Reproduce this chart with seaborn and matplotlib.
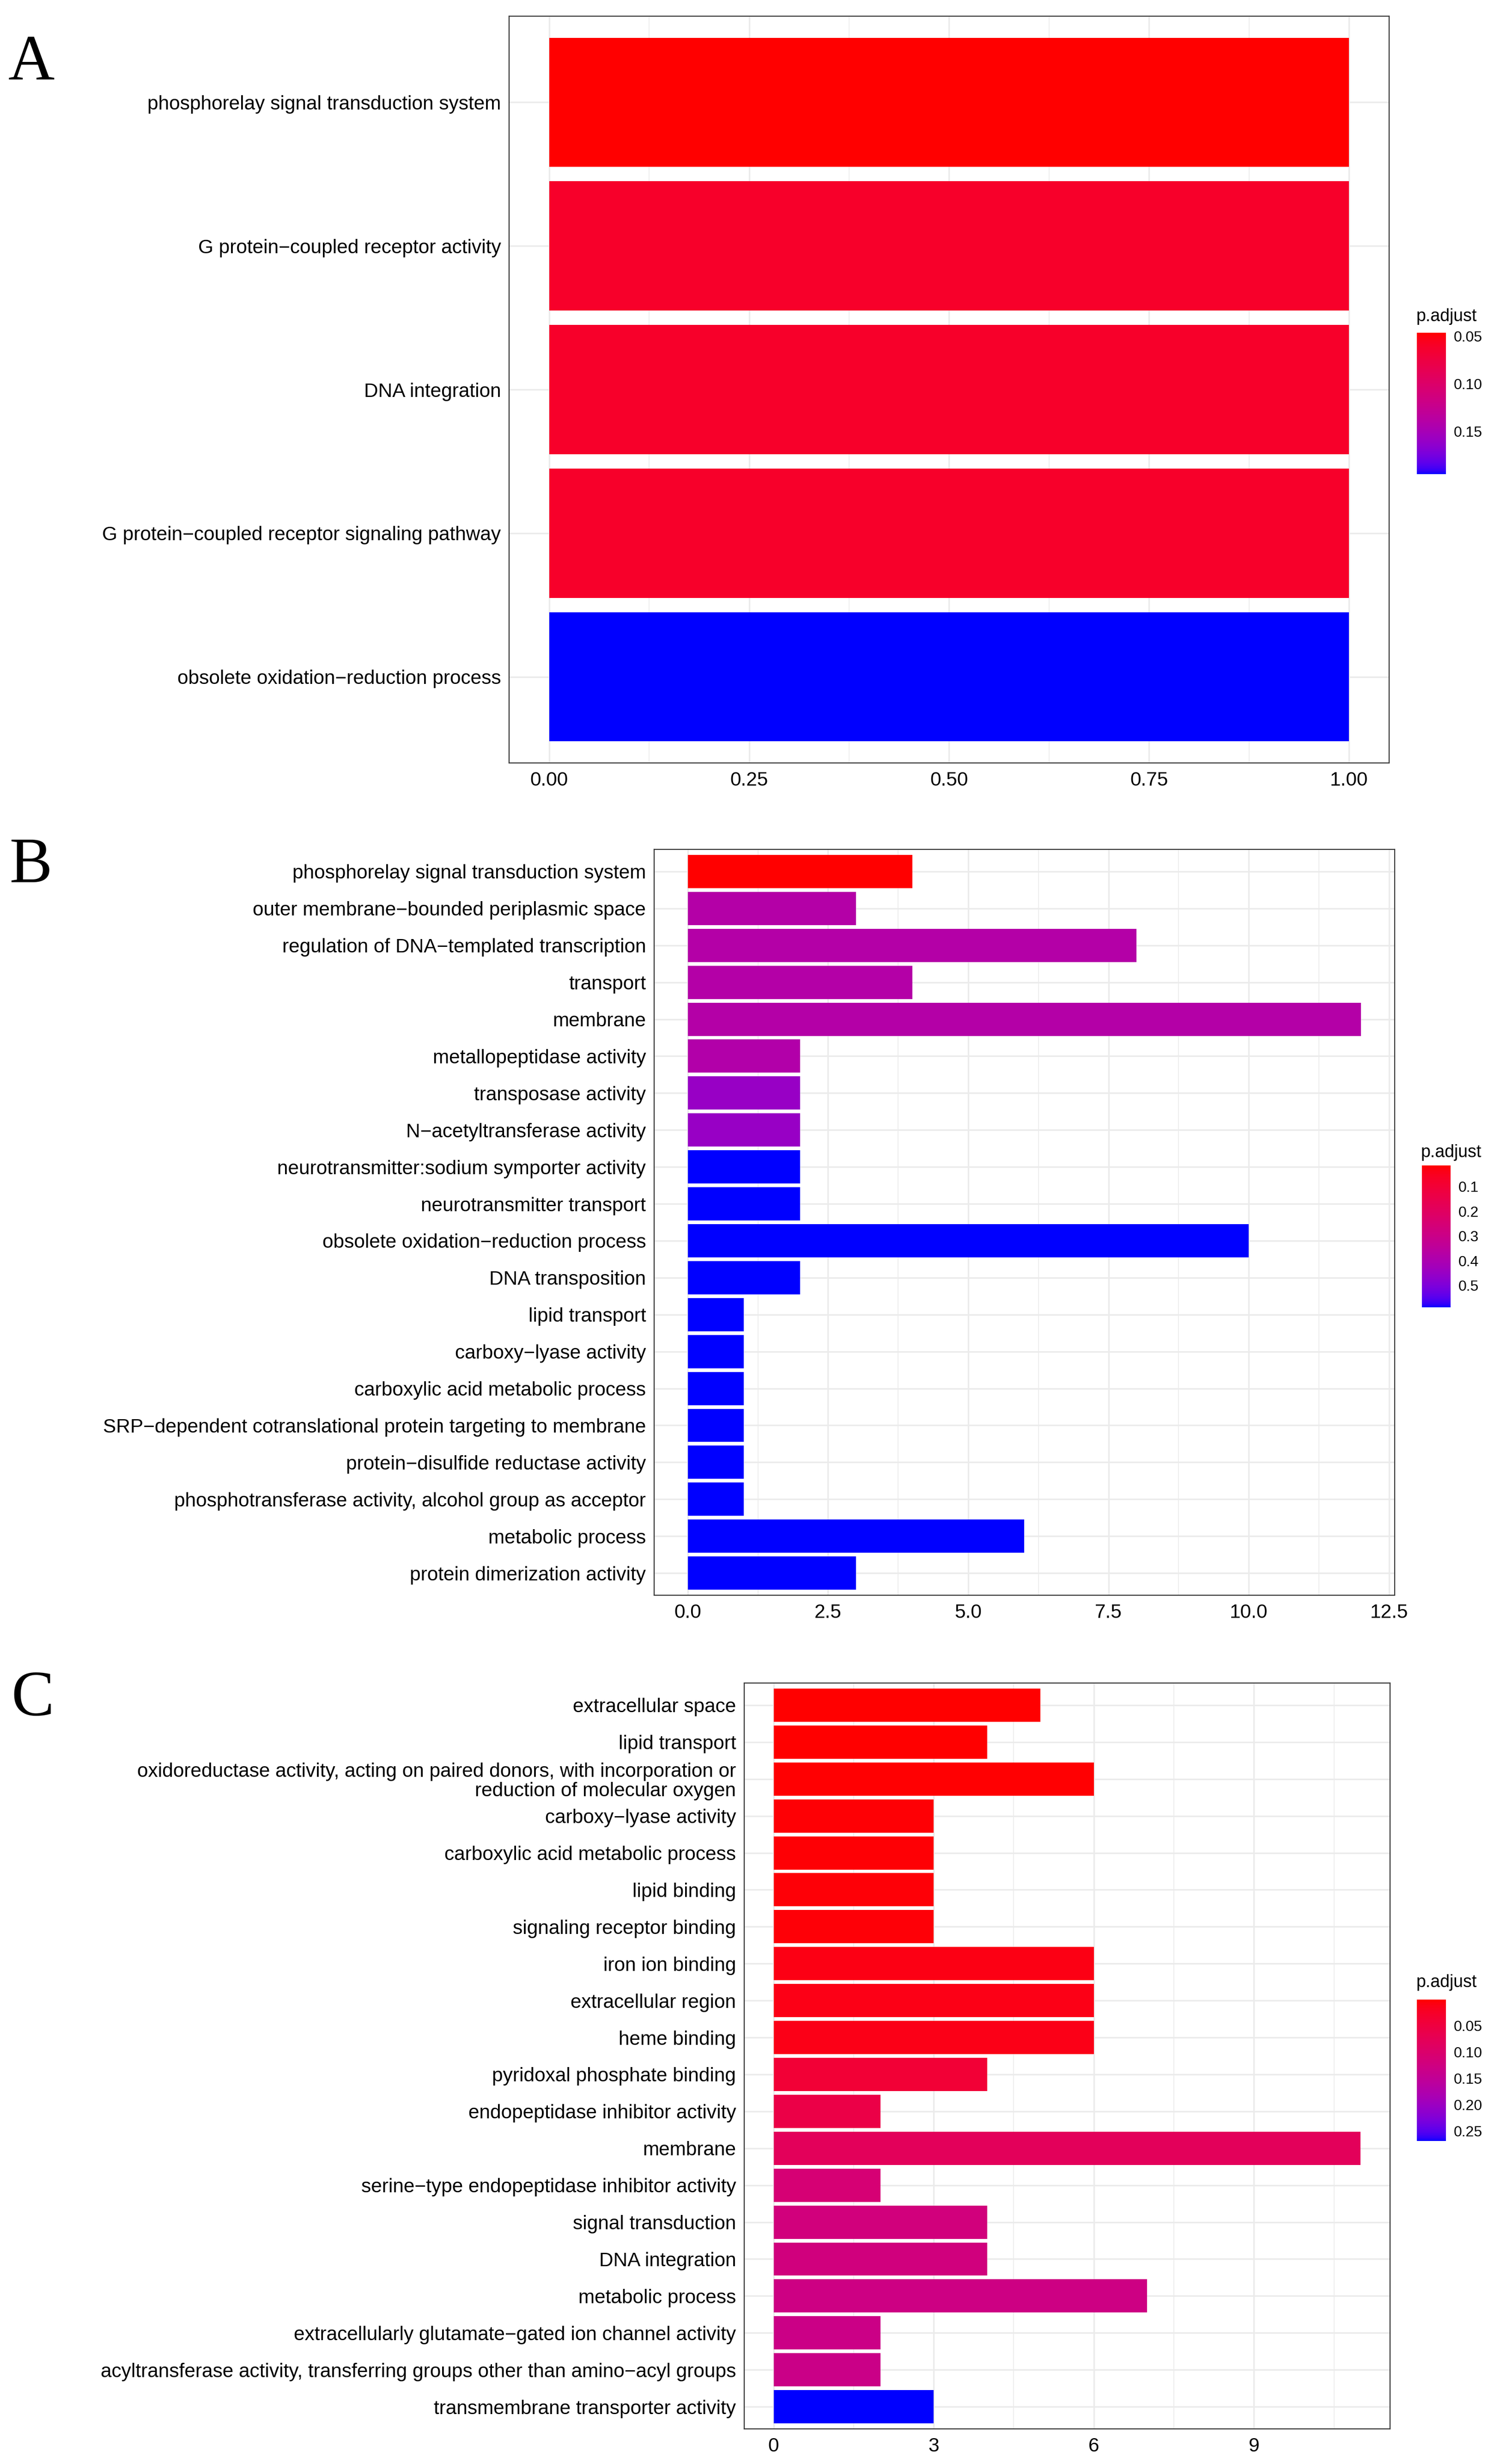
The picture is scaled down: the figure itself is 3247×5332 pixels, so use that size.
import numpy as np
import pandas as pd
import matplotlib
matplotlib.use("Agg")
import matplotlib.pyplot as plt
import seaborn as sns
from matplotlib.colors import ListedColormap, Normalize
from matplotlib.cm import ScalarMappable
from matplotlib.ticker import MultipleLocator

# ---------------- data ----------------
a_terms = ["phosphorelay signal transduction system",
           "G protein\u2212coupled receptor activity",
           "DNA integration",
           "G protein\u2212coupled receptor signaling pathway",
           "obsolete oxidation\u2212reduction process"]
a_count = [1, 1, 1, 1, 1]
a_padj = [0.0466, 0.0615, 0.0615, 0.0615, 0.195]
a_xticks = [0.0, 0.25, 0.5, 0.75, 1.0]
a_xticklabels = ["0.00", "0.25", "0.50", "0.75", "1.00"]
a_cbticks = [0.05, 0.10, 0.15]
a_cblabels = ["0.05", "0.10", "0.15"]

b_terms = ["phosphorelay signal transduction system",
           "outer membrane\u2212bounded periplasmic space",
           "regulation of DNA\u2212templated transcription",
           "transport",
           "membrane",
           "metallopeptidase activity",
           "transposase activity",
           "N\u2212acetyltransferase activity",
           "neurotransmitter:sodium symporter activity",
           "neurotransmitter transport",
           "obsolete oxidation\u2212reduction process",
           "DNA transposition",
           "lipid transport",
           "carboxy\u2212lyase activity",
           "carboxylic acid metabolic process",
           "SRP\u2212dependent cotranslational protein targeting to membrane",
           "protein\u2212disulfide reductase activity",
           "phosphotransferase activity, alcohol group as acceptor",
           "metabolic process",
           "protein dimerization activity"]
b_count = [4, 3, 8, 4, 12, 2, 2, 2, 2, 2, 10, 2, 1, 1, 1, 1, 1, 1, 6, 3]
b_padj = [0.014, 0.376, 0.376, 0.376, 0.376, 0.380, 0.450, 0.450,
          0.588, 0.588, 0.588, 0.588, 0.588, 0.588, 0.588, 0.588,
          0.588, 0.588, 0.588, 0.588]
b_xticks = [0.0, 2.5, 5.0, 7.5, 10.0, 12.5]
b_xticklabels = ["0.0", "2.5", "5.0", "7.5", "10.0", "12.5"]
b_cbticks = [0.1, 0.2, 0.3, 0.4, 0.5]
b_cblabels = ["0.1", "0.2", "0.3", "0.4", "0.5"]

c_terms = ["extracellular space",
           "lipid transport",
           "oxidoreductase activity, acting on paired donors, with incorporation or\nreduction of molecular oxygen",
           "carboxy\u2212lyase activity",
           "carboxylic acid metabolic process",
           "lipid binding",
           "signaling receptor binding",
           "iron ion binding",
           "extracellular region",
           "heme binding",
           "pyridoxal phosphate binding",
           "endopeptidase inhibitor activity",
           "membrane",
           "serine\u2212type endopeptidase inhibitor activity",
           "signal transduction",
           "DNA integration",
           "metabolic process",
           "extracellularly glutamate\u2212gated ion channel activity",
           "acyltransferase activity, transferring groups other than amino\u2212acyl groups",
           "transmembrane transporter activity"]
c_count = [5, 4, 6, 3, 3, 3, 3, 6, 6, 6, 4, 2, 11, 2, 4, 4, 7, 2, 2, 3]
c_padj = [0.0002, 0.001, 0.002, 0.003, 0.003, 0.004, 0.004, 0.010, 0.011,
          0.012, 0.040, 0.058, 0.080, 0.110, 0.120, 0.121, 0.128, 0.132,
          0.133, 0.269]
c_xticks = [0, 3, 6, 9]
c_xticklabels = ["0", "3", "6", "9"]
c_cbticks = [0.05, 0.10, 0.15, 0.20, 0.25]
c_cblabels = ["0.05", "0.10", "0.15", "0.20", "0.25"]

panel_letters = ["A", "B", "C"]
legend_title = "p.adjust"

# ---------------- colour scale (red -> blue, interpolated in Lab) ----------------
def srgb_to_lab(rgb):
    rgb = np.asarray(rgb, float)
    lin = np.where(rgb <= 0.04045, rgb / 12.92, ((rgb + 0.055) / 1.055) ** 2.4)
    M = np.array([[0.4124, 0.3576, 0.1805],
                  [0.2126, 0.7152, 0.0722],
                  [0.0193, 0.1192, 0.9505]])
    xyz = M @ lin / np.array([0.95047, 1.0, 1.08883])
    f = np.where(xyz > 0.008856, np.cbrt(xyz), 7.787 * xyz + 16 / 116)
    return np.array([116 * f[1] - 16, 500 * (f[0] - f[1]), 200 * (f[1] - f[2])])


def lab_to_srgb(lab):
    L, a, b = lab
    fy = (L + 16) / 116
    fx = fy + a / 500
    fz = fy - b / 200
    f = np.array([fx, fy, fz])
    xyz = np.where(f ** 3 > 0.008856, f ** 3, (f - 16 / 116) / 7.787)
    xyz = xyz * np.array([0.95047, 1.0, 1.08883])
    Minv = np.array([[3.2406, -1.5372, -0.4986],
                     [-0.9689, 1.8758, 0.0415],
                     [0.0557, -0.2040, 1.0570]])
    lin = np.clip(Minv @ xyz, 0, 1)
    srgb = np.where(lin <= 0.0031308, 12.92 * lin, 1.055 * lin ** (1 / 2.4) - 0.055)
    return np.clip(srgb, 0, 1)


lab_lo = srgb_to_lab([1.0, 0.0, 0.0])
lab_hi = srgb_to_lab([0.0, 0.0, 1.0])
grad = [lab_to_srgb(lab_lo + (lab_hi - lab_lo) * t) for t in np.linspace(0, 1, 256)]
cmap = ListedColormap(grad)

# ---------------- figure ----------------
sns.set_style("white")
plt.rcParams["font.family"] = ["Liberation Sans", "DejaVu Sans"]

W, H = 3248, 5332
DPI = 100
fig = plt.figure(figsize=(W / DPI, H / DPI), dpi=DPI)
fig.patch.set_facecolor("white")


def rect(x0, y0, x1, y1):
    return [x0 / W, 1 - y1 / H, (x1 - x0) / W, (y1 - y0) / H]


def panel(box, terms, counts, padj, xticks, xticklabels, minor_step,
          cbox, cbticks, cblabels, title_xy):
    ax = fig.add_axes(rect(*box))
    df = pd.DataFrame({"Description": terms, "Count": counts, "p.adjust": padj})
    norm = Normalize(vmin=min(padj), vmax=max(padj))
    pal = {t: cmap(norm(p)) for t, p in zip(terms, padj)}
    sns.barplot(data=df, x="Count", y="Description", hue="Description",
                order=terms, hue_order=terms, palette=pal, dodge=False,
                width=0.9, saturation=1, legend=False, linewidth=0,
                errorbar=None, ax=ax)
    xmax = max(counts)
    ax.set_xlim(-0.05 * xmax, 1.05 * xmax)
    ax.set_ylim(len(terms) - 1 + 0.6, -0.6)
    ax.set_xlabel("")
    ax.set_ylabel("")
    ax.set_xticks(xticks)
    ax.set_xticklabels(xticklabels)
    ax.xaxis.set_minor_locator(MultipleLocator(minor_step))
    ax.set_axisbelow(True)
    ax.grid(True, which="major", color="#EBEBEB", linewidth=2.4)
    ax.grid(True, which="minor", axis="x", color="#EBEBEB", linewidth=1.2)
    ax.tick_params(axis="both", which="major", direction="out", length=7.2,
                   width=1.5, color="#333333", labelsize=30.5,
                   labelcolor="black", pad=5.5)
    ax.tick_params(axis="both", which="minor", length=0)
    for lab in ax.get_yticklabels():
        lab.set_linespacing(1.05)
    for s in ax.spines.values():
        s.set_visible(True)
        s.set_color("#333333")
        s.set_linewidth(1.6)

    cax = fig.add_axes(rect(*cbox))
    cb = fig.colorbar(ScalarMappable(norm=norm, cmap=cmap), cax=cax)
    cb.outline.set_visible(False)
    cb.minorticks_off()
    cax.invert_yaxis()
    cb.set_ticks(cbticks)
    cb.set_ticklabels(cblabels)
    cax.tick_params(which="major", direction="in", length=9.4, width=1.4,
                    color=(1, 1, 1, 0.8), left=True, right=True,
                    labelleft=False, labelright=True, labelsize=23,
                    labelcolor="black", pad=12)
    fig.text(title_xy[0] / W, 1 - title_xy[1] / H, legend_title,
             ha="left", va="center", fontsize=27, color="black")
    return ax


panel((1102, 35, 3007, 1651), a_terms, a_count, a_padj, a_xticks,
      a_xticklabels, 0.125, (3067, 720, 3130, 1026), a_cbticks, a_cblabels,
      (3066, 685))
panel((1416, 1838, 3019, 3452), b_terms, b_count, b_padj, b_xticks,
      b_xticklabels, 1.25, (3078, 2522, 3140, 2829), b_cbticks, b_cblabels,
      (3076, 2494))
panel((1611, 3642, 3009, 5256), c_terms, c_count, c_padj, c_xticks,
      c_xticklabels, 1.5, (3067, 4327, 3130, 4633), c_cbticks, c_cblabels,
      (3066, 4290))

for letter, (lx, ly) in zip(panel_letters, [(18, 172), (20, 1909), (24, 3712)]):
    fig.text(lx / W, 1 - ly / H, letter, ha="left", va="baseline",
             fontsize=100, family=["Liberation Serif", "DejaVu Serif"],
             color="black")

fig.savefig("out.png", dpi=DPI, facecolor="white")
